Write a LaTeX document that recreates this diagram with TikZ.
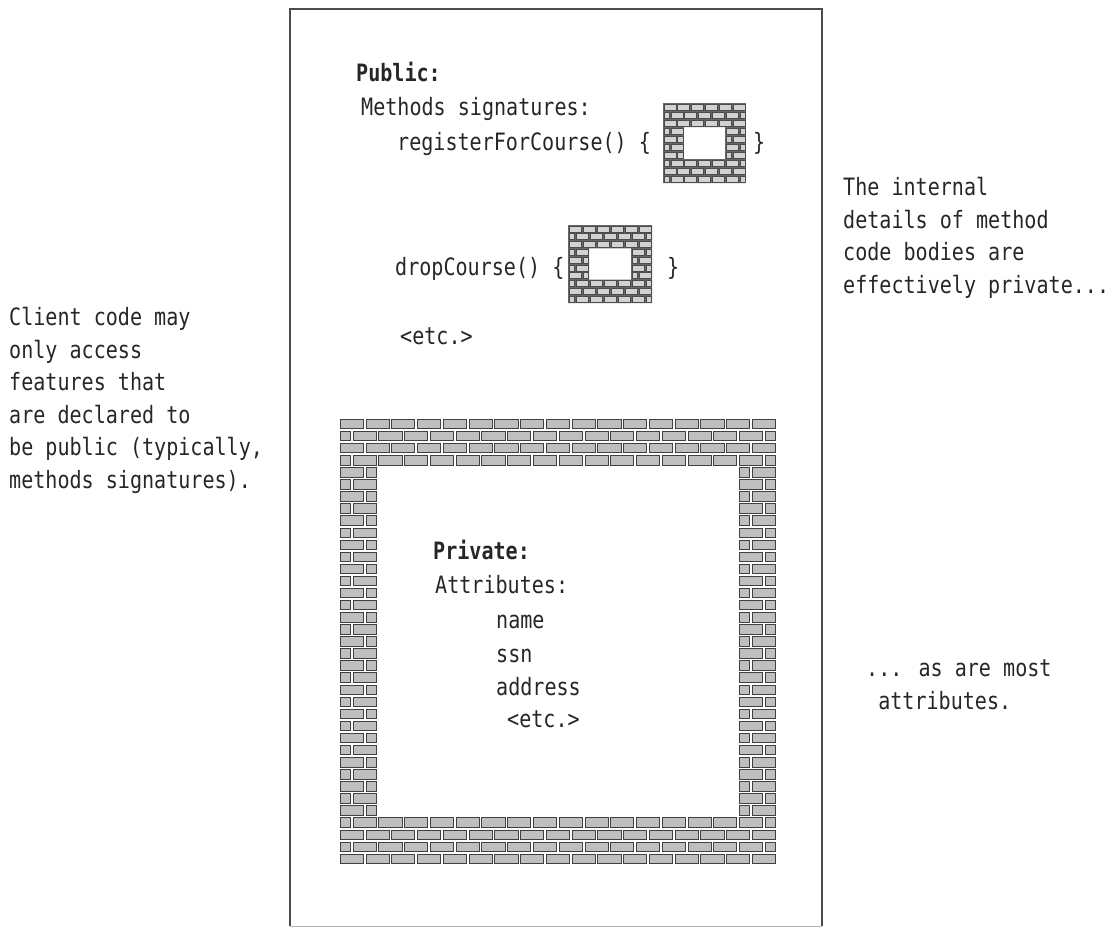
\documentclass[tikz,border=0pt]{standalone}
\usepackage{fontspec}
\usepackage{tikz}
\usetikzlibrary{calc}

\newfontfamily\codefont[FakeStretch=0.84]{DejaVu Sans Mono}

% gap between neighbouring bricks
\def\bg{1.3pt}

% rows of bricks in running bond, with a rectangular opening
% #1 columns, #2 last row, #3/#4 opening columns, #5/#6 first/last opening row, #7 style
\newcommand\brickwall[7]{%
  \foreach \r in {0,...,#2}{%
    \pgfmathsetmacro\off{mod(\r,2)/2}%
    \def\spans{0/#1}%
    \ifnum\r<#5\relax\else\ifnum\r>#6\relax\else\def\spans{0/#3,#4/#1}\fi\fi
    \foreach \a/\b in \spans{%
      \foreach \k in {-1,...,#1}{%
        \pgfmathsetmacro\bl{max(\a,\k+\off)}%
        \pgfmathsetmacro\br{min(\b,\k+1+\off)}%
        \ifdim\br pt>\dimexpr\bl pt+0.01pt\relax
          \draw[#7] ([xshift=\bg,yshift=-\bg]\bl,\r) rectangle ([xshift=-\bg,yshift=\bg]\br,\r+1);
        \fi}}}}

\tikzset{
  brick/.style={fill=gray!50, draw=black!75, line width=1pt},
  minibrick/.style={fill=gray!35, draw=black!70, line width=.6pt},
  mortar/.style={fill=black!60, even odd rule},
  code/.style={font=\codefont\fontsize{23.9}{32.5}\selectfont, text=black!85,
    anchor=base west, inner sep=0pt, align=left},
  codebold/.style={code, font=\codefont\bfseries\fontsize{23.9}{32.5}\selectfont},
}

\begin{document}
\begin{tikzpicture}[x=1pt, y=-1pt]
\useasboundingbox (0,0) rectangle (1113,926);

% the object
\draw[black!70, line width=1.1pt] (290,926) -- (290,9) -- (822,9) -- (822,926);
\draw[black!30, line width=1pt] (290,926) -- (822,926);

% public part
\node[codebold] (pubhead) at (356,81) {Public:};
\node[code] (methhead) at (361,115) {Methods signatures:};
\node[code] (regsig) at (397,150) {registerForCourse() \{};
\node[code] (regclose) at (753,150) {\}};
\node[code] (dropsig) at (395,275) {dropCourse() \{};
\node[code] (dropclose) at (667,275) {\}};
\node[code] (pubetc) at (400,344) {<etc.>};

% method bodies walled in
\begin{scope}[shift={(663,103)}, x=13.83pt, y=-8pt]
  \def\bg{.9pt}
  \fill[mortar] (0,0) rectangle (6,10) (1.5,3) rectangle (4.5,7);
  \brickwall{6}{9}{1.5}{4.5}{3}{6}{minibrick}
\end{scope}
\begin{scope}[shift={(568,225)}, x=14pt, y=-7.8pt]
  \def\bg{.9pt}
  \fill[mortar] (0,0) rectangle (6,10) (1.5,3) rectangle (4.5,7);
  \brickwall{6}{9}{1.5}{4.5}{3}{6}{minibrick}
\end{scope}

% private part behind the big wall
\begin{scope}[shift={(339,418)}, x=25.76pt, y=-12.08pt]
  \brickwall{17}{36}{1.5}{15.5}{4}{32}{brick}
\end{scope}

\node[codebold] (privhead) at (433,559) {Private:};
\node[code] (attrhead) at (435,593) {Attributes:};
\node[code] (attrname) at (496,628) {name};
\node[code] (attrssn) at (496,662) {ssn};
\node[code] (attraddr) at (496,695) {address};
\node[code] (privetc) at (507,727) {<etc.>};

% side notes (anchored on their last line)
\node[code] (clientnote) at (9,488) {Client code may\\only access\\features that\\are declared to\\be public (typically,\\methods signatures).};
\node[code] (bodynote) at (843,293) {The internal\\details of method\\code bodies are\\effectively private...};
\node[code] (attrnote) at (866,709) {... as are most\\\ attributes.};
\end{tikzpicture}
\end{document}
